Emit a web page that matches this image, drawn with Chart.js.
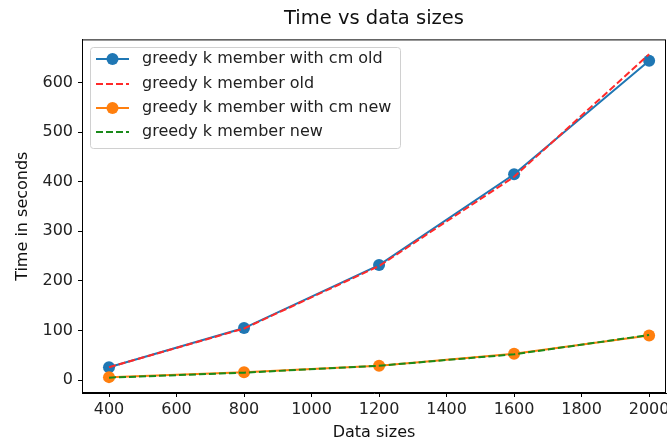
<!DOCTYPE html>
<html>
<head>
<meta charset="utf-8">
<script src="https://cdn.jsdelivr.net/npm/chart.js@4/dist/chart.umd.min.js"></script>
<style>
  html, body { margin: 0; padding: 0; background: #fff; }
  #wrap { width: 667px; height: 443px; }
</style>
</head>
<body>
<div id="wrap"><canvas id="timeChart" width="667" height="443"></canvas></div>
<script>
// data
const dataSizes = [400, 800, 1200, 1600, 2000];
const cmOld = [26, 105, 232, 415, 644];
const plainOld = [26, 104, 230, 410, 657];
const cmNew = [6, 16, 29, 53, 90];
const plainNew = [5, 15, 29, 52, 91];
const xTicks = [400, 600, 800, 1000, 1200, 1400, 1600, 1800, 2000];
const yTicks = [0, 100, 200, 300, 400, 500, 600];

const FONT = "'DejaVu Sans', sans-serif";

function pts(ys) {
  return dataSizes.map((x, i) => ({ x: x, y: ys[i] }));
}

// matplotlib style frame + legend box
const framePlugin = {
  id: "frame",
  afterDraw(chart) {
    const ctx = chart.ctx;
    const a = chart.chartArea;
    ctx.save();
    ctx.strokeStyle = "#000";
    ctx.lineWidth = 1;
    ctx.strokeRect(a.left + 0.5, a.top + 0.5, a.right - a.left - 1, a.bottom - a.top - 1);

    // legend
    const bx = 90, by = 47, bw = 310, bh = 101;
    ctx.fillStyle = "rgba(255,255,255,0.8)";
    ctx.strokeStyle = "#d0d0d0";
    ctx.beginPath();
    ctx.roundRect(bx + 0.5, by + 0.5, bw, bh, 3);
    ctx.fill();
    ctx.stroke();

    const rowY = [59, 84, 108, 132];
    chart.data.datasets.forEach((ds, i) => {
      const y = rowY[i];
      ctx.strokeStyle = ds.borderColor;
      ctx.lineWidth = ds.borderWidth;
      ctx.setLineDash(ds.borderDash || []);
      ctx.beginPath();
      ctx.moveTo(96, y);
      ctx.lineTo(129, y);
      ctx.stroke();
      ctx.setLineDash([]);
      if (ds.pointRadius > 0) {
        ctx.fillStyle = ds.pointBackgroundColor;
        ctx.beginPath();
        ctx.arc(112.5, y, ds.pointRadius, 0, Math.PI * 2);
        ctx.fill();
      }
      ctx.fillStyle = "#222";
      ctx.font = "16px " + FONT;
      ctx.textBaseline = "middle";
      ctx.fillText(ds.label, 142, y);
    });
    ctx.restore();
  }
};

const ctx = document.getElementById("timeChart").getContext("2d");
new Chart(ctx, {
  type: "line",
  data: {
    datasets: [
      {
        label: "greedy k member with cm old",
        data: pts(cmOld),
        borderColor: "#1f77b4",
        backgroundColor: "#1f77b4",
        pointBackgroundColor: "#1f77b4",
        pointBorderWidth: 0,
        borderWidth: 2,
        pointRadius: 6,
        order: 4
      },
      {
        label: "greedy k member old",
        data: pts(plainOld),
        borderColor: "#ff2a2a",
        backgroundColor: "#ff2a2a",
        borderWidth: 2,
        borderDash: [7, 3],
        pointRadius: 0,
        order: 3
      },
      {
        label: "greedy k member with cm new",
        data: pts(cmNew),
        borderColor: "#ff7f0e",
        backgroundColor: "#ff7f0e",
        pointBackgroundColor: "#ff7f0e",
        pointBorderWidth: 0,
        borderWidth: 2,
        pointRadius: 6,
        order: 2
      },
      {
        label: "greedy k member new",
        data: pts(plainNew),
        borderColor: "#1a8a1a",
        backgroundColor: "#1a8a1a",
        borderWidth: 2,
        borderDash: [7, 3],
        pointRadius: 0,
        order: 1
      }
    ]
  },
  options: {
    responsive: false,
    animation: false,
    layout: { autoPadding: false, padding: { left: 0, right: 1, top: 0, bottom: 0 } },
    plugins: {
      legend: { display: false },
      tooltip: { enabled: false },
      title: {
        display: true,
        fullSize: false,
        text: "Time vs data sizes",
        color: "#111",
        font: { family: FONT, size: 19.5, weight: "normal" },
        padding: { top: 7, bottom: 9 }
      }
    },
    scales: {
      x: {
        type: "linear",
        min: 320,
        max: 2050,
        afterBuildTicks: (s) => { s.ticks = xTicks.map(v => ({ value: v })); },
        afterFit: (s) => { s.height = 50; s.paddingLeft = 0; s.paddingRight = 0; },
        ticks: {
          color: "#222",
          font: { family: FONT, size: 16 },
          padding: 3,
          maxRotation: 0,
          autoSkip: false,
          callback: (v) => String(v)
        },
        grid: { drawOnChartArea: false, drawTicks: true, tickLength: 4, color: "#000" },
        border: { display: true, color: "#000" },
        title: {
          display: true,
          text: "Data sizes",
          color: "#111",
          font: { family: FONT, size: 16 },
          padding: { top: 2, bottom: 1 }
        }
      },
      y: {
        min: -26,
        max: 687,
        afterBuildTicks: (s) => { s.ticks = yTicks.map(v => ({ value: v })); },
        afterFit: (s) => { s.width = 82; s.paddingTop = 0; s.paddingBottom = 0; },
        ticks: {
          color: "#222",
          font: { family: FONT, size: 16 },
          padding: 5
        },
        grid: { drawOnChartArea: false, drawTicks: true, tickLength: 4, color: "#000" },
        border: { display: true, color: "#000" },
        title: {
          display: true,
          text: "Time in seconds",
          color: "#111",
          font: { family: FONT, size: 16 },
          padding: { top: 13, bottom: 0 }
        }
      }
    }
  },
  plugins: [framePlugin]
});
</script>
</body>
</html>
